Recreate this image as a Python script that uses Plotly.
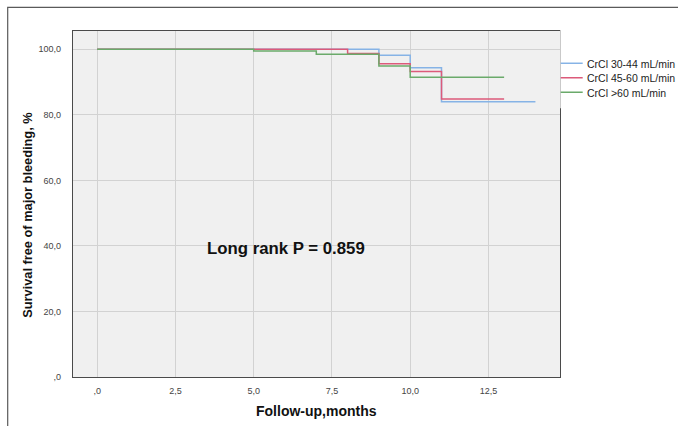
import plotly.graph_objects as go

# ---- data ----
group_names = ["CrCl 30-44 mL/min", "CrCl 45-60 mL/min", "CrCl >60 mL/min"]
group_colors = ["#86b3e6", "#dc5a7a", "#6aaa6a"]
times_30_44 = [0, 9, 10, 11, 14]
surv_30_44 = [100, 98.2, 94.4, 84.0, 84.0]
times_45_60 = [0, 8, 9, 10, 11, 13]
surv_45_60 = [100, 98.7, 95.6, 93.2, 84.8, 84.8]
times_gt60 = [0, 5, 7, 9, 10, 13]
surv_gt60 = [100, 99.5, 98.5, 94.9, 91.5, 91.5]

x_ticks = [0, 2.5, 5, 7.5, 10, 12.5]
x_ticktext = [",0", "2,5", "5,0", "7,5", "10,0", "12,5"]
y_ticks = [0, 20, 40, 60, 80, 100]
y_ticktext = [",0", "20,0", "40,0", "60,0", "80,0", "100,0"]
p_text = "Long rank P = 0.859"

W, H = 678, 426
L, R, T, B = 73.3, 560.3, 30.7, 377.0
pw, ph = R - L, B - T

def px(x):
    return (x - L) / pw

def py(y):
    return (B - y) / ph

FONT = "Liberation Sans, Arial, sans-serif"

fig = go.Figure()
series = [(times_30_44, surv_30_44), (times_45_60, surv_45_60), (times_gt60, surv_gt60)]
for (t, s), name, col in zip(series, group_names, group_colors):
    fig.add_trace(go.Scatter(x=t, y=s, mode="lines", line=dict(shape="hv", color=col, width=1.5),
                             name=name, showlegend=False, hoverinfo="skip"))

shapes = []
# outer frame
shapes.append(dict(type="rect", xref="paper", yref="paper", x0=px(8), x1=px(700), y0=py(7), y1=py(440),
                   line=dict(color="#5a5a5a", width=1.2), fillcolor="rgba(0,0,0,0)", layer="below"))
# white legend box covering upper part of right border
shapes.append(dict(type="rect", xref="paper", yref="paper", x0=px(560.6), x1=px(690), y0=py(108), y1=py(20),
                   line=dict(width=0), fillcolor="white", layer="above"))
annotations = []
legend_y = [63, 77.5, 92]
for name, col, ly in zip(group_names, group_colors, legend_y):
    shapes.append(dict(type="line", xref="paper", yref="paper", x0=px(561), x1=px(583), y0=py(ly), y1=py(ly),
                       line=dict(color=col, width=1.5), layer="above"))
    annotations.append(dict(text=name, xref="paper", yref="paper", x=px(585.5), y=py(ly + 0.5),
                            xanchor="left", yanchor="middle", showarrow=False,
                            font=dict(family=FONT, size=10.5, color="#222")))

annotations.append(dict(text="<b>" + p_text + "</b>", x=6.02, y=39.3, xref="x", yref="y", showarrow=False,
                        xanchor="center", yanchor="middle", font=dict(family=FONT, size=16.8, color="#111")))
annotations.append(dict(text="<b>Survival free of major bleeding, %</b>", xref="paper", yref="paper",
                        x=px(27), y=py(215), textangle=-90, showarrow=False, xanchor="center", yanchor="middle",
                        font=dict(family=FONT, size=12.8, color="#111")))
annotations.append(dict(text="<b>Follow-up,months</b>", xref="paper", yref="paper",
                        x=px(316.7), y=py(411), showarrow=False, xanchor="center", yanchor="middle",
                        font=dict(family=FONT, size=14, color="#111")))

x_lo = 0 - (97.5 - L) / 31.33
x_hi = 12.5 + (R - 488.7) / 31.33
y_lo = 0
y_hi = 100 + (49 - T) / 3.28

fig.update_layout(
    width=W, height=H,
    margin=dict(l=L, r=W - R, t=T, b=H - B, autoexpand=False),
    paper_bgcolor="white", plot_bgcolor="#f0f0f0",
    showlegend=False, hovermode=False,
    shapes=shapes, annotations=annotations,
    font=dict(family=FONT, size=9, color="#444"),
)
fig.update_xaxes(range=[x_lo, x_hi], tickvals=x_ticks, ticktext=x_ticktext, showgrid=True,
                 gridcolor="#d2d2d2", gridwidth=1, zeroline=False, showline=True, mirror=True,
                 linecolor="#4a4a4a", linewidth=1.3, ticks="", ticklabelstandoff=5,
                 tickfont=dict(family=FONT, size=9, color="#444"))
fig.update_yaxes(range=[y_lo, y_hi], tickvals=y_ticks, ticktext=y_ticktext, showgrid=True,
                 gridcolor="#d2d2d2", gridwidth=1, zeroline=False, showline=True, mirror=True,
                 linecolor="#4a4a4a", linewidth=1.3, ticks="", ticklabelstandoff=9,
                 tickfont=dict(family=FONT, size=9, color="#444"))

fig.write_html("out.html", config={"displayModeBar": False},
               post_script="document.body.style.margin='0';document.body.style.overflow='hidden';")
